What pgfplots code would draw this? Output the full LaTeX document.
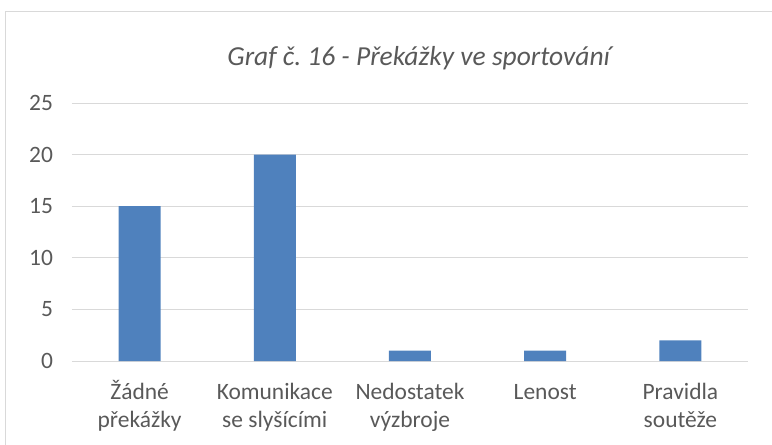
\documentclass[border=0pt]{standalone}
\usepackage{fontspec}
\setmainfont{Carlito}
\usepackage{pgfplots}
\pgfplotsset{compat=1.18}
\definecolor{barblue}{HTML}{4F81BD}
\definecolor{gridgray}{HTML}{D9D9D9}
\definecolor{txtgray}{HTML}{595959}
\frenchspacing
\begin{document}
\begin{tikzpicture}
\useasboundingbox (0,0) rectangle (579pt,333pt);
\draw[gridgray, line width=0.75pt] (3.75pt,-10pt) rectangle (600pt,324pt);
\node[anchor=base, text=txtgray, font=\fontsize{20.6}{25}\selectfont\itshape] at (314pt,284pt) {Graf č. 16 - Překážky ve sportování};
\begin{axis}[
  at={(54pt,62.25pt)}, anchor=south west,
  scale only axis, width=507pt, height=193.5pt,
  xmin=-0.5, xmax=4.5, ymin=0, ymax=25,
  axis line style={draw=none},
  ytick={0,5,10,15,20,25},
  ymajorgrids, grid style={gridgray, line width=0.75pt},
  major tick length=0pt,
  xtick=data,
  xticklabels={{\vphantom{Ž}Žádné\\překážky},{\vphantom{Ž}Komunikace\\se slyšícími},{\vphantom{Ž}Nedostatek\\výzbroje},{\vphantom{Ž}Lenost},{\vphantom{Ž}Pravidla\\soutěže}},
  xticklabel style={align=center, text=txtgray, font=\fontsize{17.6}{21}\selectfont, anchor=north, yshift=-11pt},
  yticklabel style={text=txtgray, font=\fontsize{17.6}{21}\selectfont, xshift=-10.75pt},
  /pgf/number format/assume math mode=true,
  clip=false,
]
\addplot[ybar, bar width=31.5pt, fill=barblue, draw=none] coordinates {(0,15) (1,20) (2,1) (3,1) (4,2)};
\end{axis}
\end{tikzpicture}
\end{document}
